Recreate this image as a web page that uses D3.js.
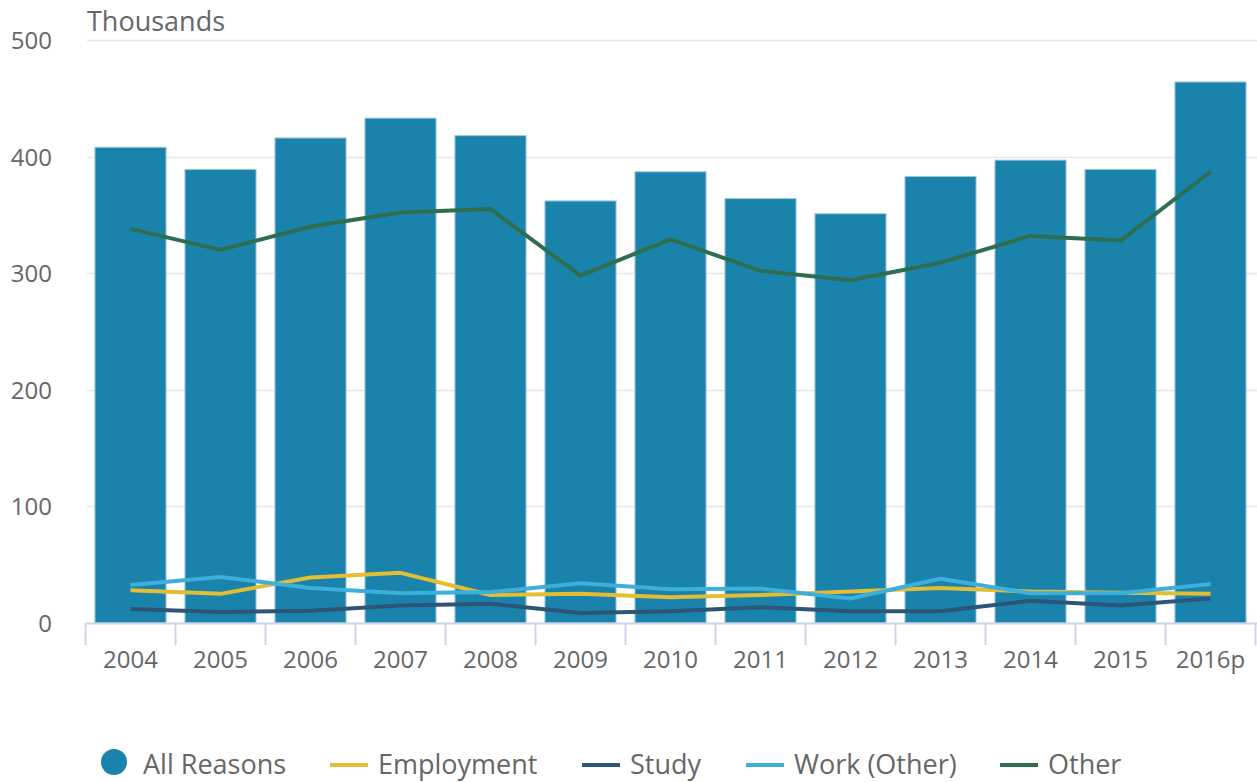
<!DOCTYPE html>
<html>
<head>
<meta charset="utf-8">
<script src="https://cdn.jsdelivr.net/npm/d3@7"></script>
<style>
body { margin: 0; background: #fff; }
text { font-family: "Open Sans", sans-serif; fill: #666; }
</style>
</head>
<body>
<div id="chart"></div>
<script>
var years = ["2004", "2005", "2006", "2007", "2008", "2009", "2010", "2011", "2012", "2013", "2014", "2015", "2016p"];
var allReasons = [408, 389, 416, 433, 418, 362, 387, 364, 351, 383, 397, 389, 464];
var employment = [28, 25, 39, 43, 24, 25, 22, 24, 27, 30, 27, 26, 25];
var study = [12, 9.5, 10.5, 15, 16.5, 8.5, 10, 13.5, 10, 10, 19, 15, 21];
var workOther = [32.5, 39.5, 30, 25.5, 26.5, 34, 29, 29.5, 21, 38, 25.5, 25.5, 33.5];
var other = [338, 320, 340, 352, 355, 298, 329, 302, 294, 309, 332, 328, 387];
var yTicks = [0, 100, 200, 300, 400, 500];

var series = [
  { name: "Employment", values: employment, color: "#e3bd33" },
  { name: "Study", values: study, color: "#2d5577" },
  { name: "Work (Other)", values: workOther, color: "#3eaedb" },
  { name: "Other", values: other, color: "#2e6e4e" }
];

var w = 1257, h = 782;
var svg = d3.select("#chart").append("svg")
    .attr("width", w)
    .attr("height", h);

var x = d3.scaleBand()
    .domain(years)
    .range([85.5, 1255.5])
    .paddingInner(0.21)
    .paddingOuter(0.105);

var y = d3.scaleLinear()
    .domain([0, 500])
    .range([623, 40]);

// gridlines
svg.append("g")
  .selectAll("line")
  .data(yTicks)
  .join("line")
    .attr("x1", 87)
    .attr("x2", w)
    .attr("y1", d => Math.round(y(d)) + 0.5)
    .attr("y2", d => Math.round(y(d)) + 0.5)
    .attr("stroke", "#e6e6e6")
    .attr("stroke-width", 1.5);

// y labels
svg.append("g")
  .selectAll("text")
  .data(yTicks)
  .join("text")
    .attr("x", 52)
    .attr("y", d => y(d) + 9)
    .attr("text-anchor", "end")
    .style("font-size", "24px")
    .text(d => d);

svg.append("text")
    .attr("x", 87)
    .attr("y", 31)
    .style("font-size", "27px")
    .text("Thousands");

// bars
svg.append("g")
  .selectAll("rect")
  .data(allReasons)
  .join("rect")
    .attr("x", (d, i) => x(years[i]))
    .attr("y", d => y(d))
    .attr("width", x.bandwidth())
    .attr("height", d => y(0) - y(d))
    .attr("fill", "#1a83ab")
    .attr("stroke", "#9fc8d9")
    .attr("stroke-width", 1);

// x axis
var boundaries = years.map(d => x(d) - x.step() * x.paddingInner() / 2);
boundaries.push(1255.5);
svg.append("line")
    .attr("x1", 85)
    .attr("x2", w)
    .attr("y1", 623.5)
    .attr("y2", 623.5)
    .attr("stroke", "#ccd6eb")
    .attr("stroke-width", 2);
svg.append("g")
  .selectAll("line")
  .data(boundaries)
  .join("line")
    .attr("x1", d => d)
    .attr("x2", d => d)
    .attr("y1", 623)
    .attr("y2", 645)
    .attr("stroke", "#ccd6eb")
    .attr("stroke-width", 2);
svg.append("g")
  .selectAll("text")
  .data(years)
  .join("text")
    .attr("x", d => x(d) + x.bandwidth() / 2)
    .attr("y", 668)
    .attr("text-anchor", "middle")
    .style("font-size", "24px")
    .text(d => d);

// lines
var line = d3.line()
    .x((d, i) => x(years[i]) + x.bandwidth() / 2)
    .y(d => y(d));

svg.append("g")
  .selectAll("path")
  .data(series)
  .join("path")
    .attr("d", d => line(d.values))
    .attr("fill", "none")
    .attr("stroke", d => d.color)
    .attr("stroke-width", 4)
    .attr("stroke-linejoin", "round");

// legend
var leg = svg.append("g");
leg.append("circle")
    .attr("cx", 114)
    .attr("cy", 762)
    .attr("r", 13)
    .attr("fill", "#1a83ab");
leg.append("text")
    .attr("x", 143)
    .attr("y", 774)
    .style("font-size", "27px")
    .text("All Reasons");

var legX = [330, 582, 746, 1000];
series.forEach(function(s, i) {
  leg.append("line")
      .attr("x1", legX[i])
      .attr("x2", legX[i] + 38)
      .attr("y1", 765)
      .attr("y2", 765)
      .attr("stroke", s.color)
      .attr("stroke-width", 4);
  leg.append("text")
      .attr("x", legX[i] + 48)
      .attr("y", 774)
      .style("font-size", "27px")
      .text(s.name);
});
</script>
</body>
</html>
